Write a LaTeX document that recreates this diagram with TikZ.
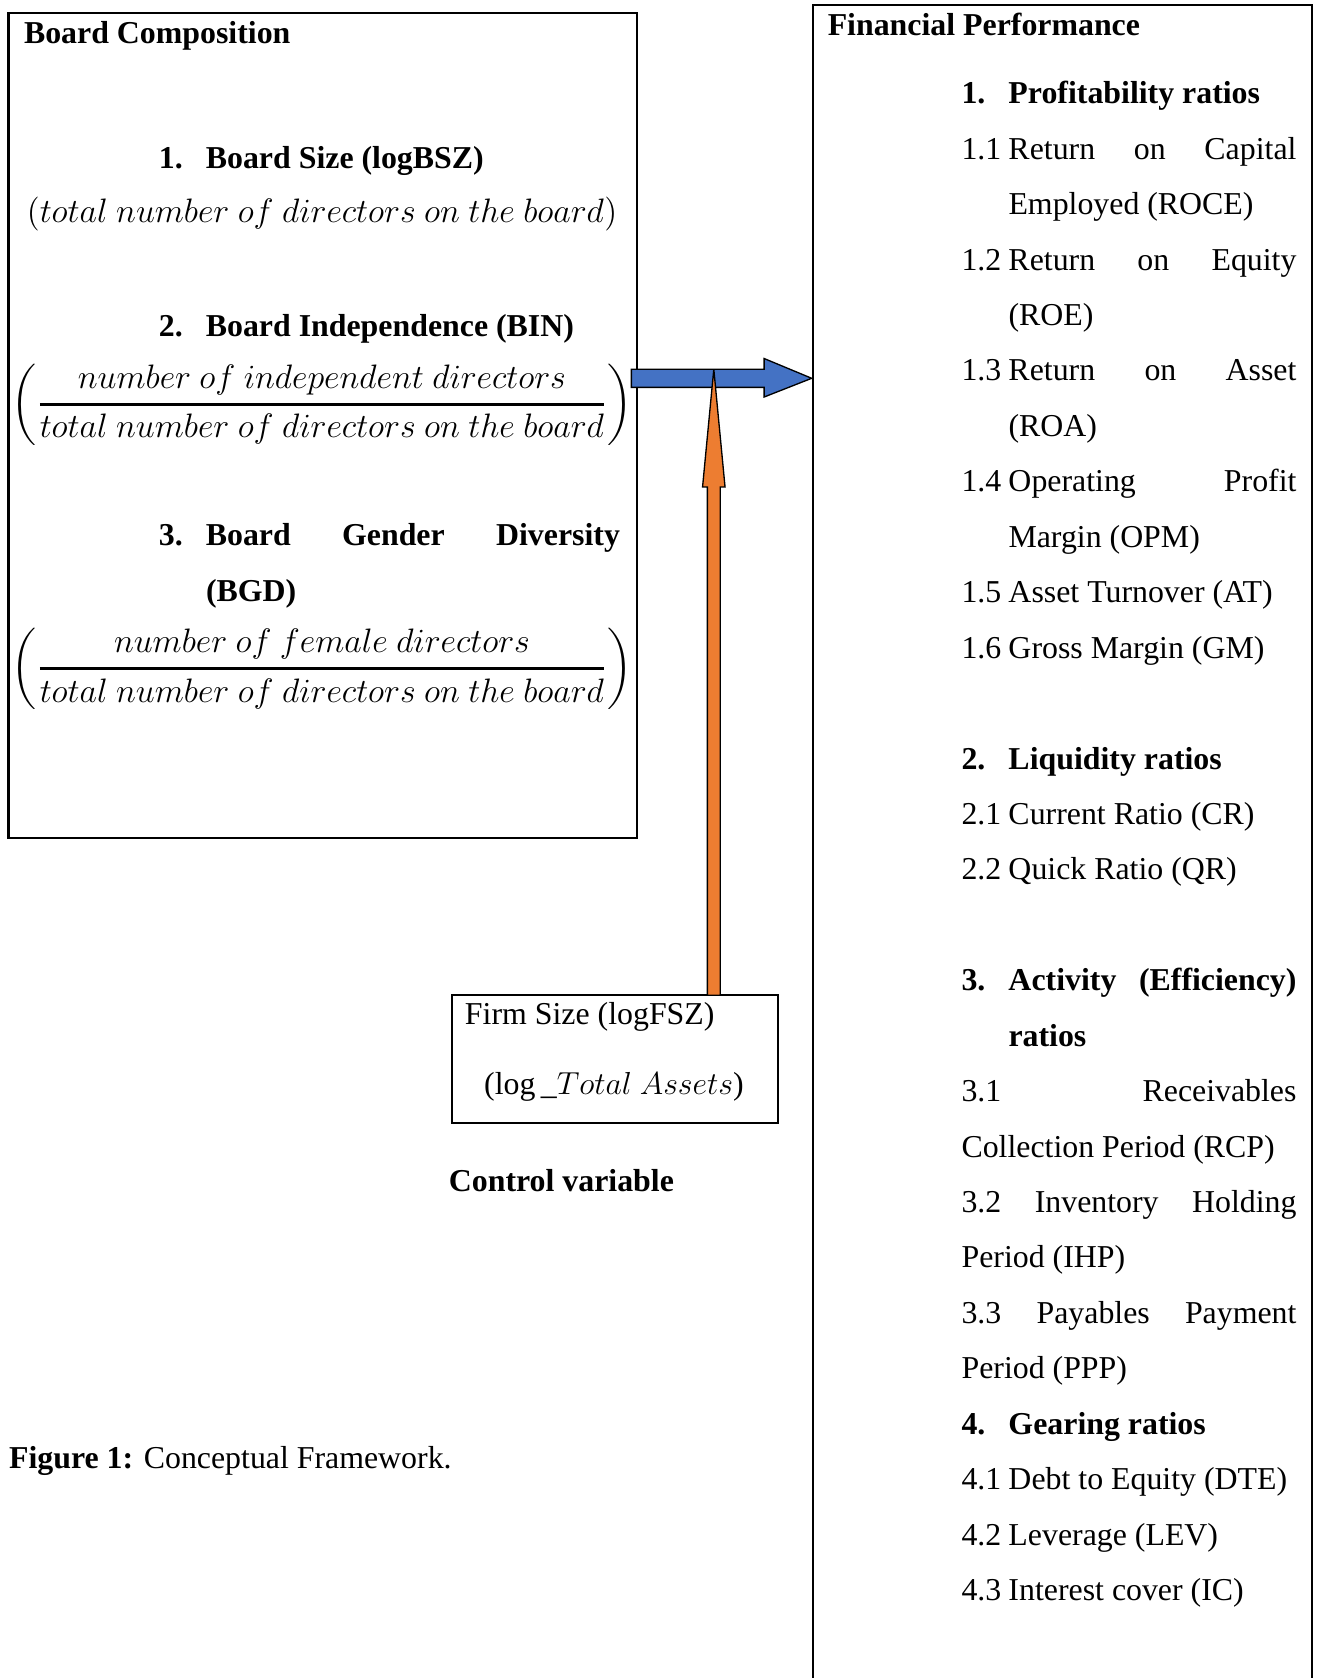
\documentclass[tikz,border=0pt,12pt]{standalone}
\usepackage{fontspec}
\setmainfont{Liberation Serif}
\usepackage{amsmath,graphicx}
\usetikzlibrary{calc,positioning,fit}

\definecolor{arrowblue}{HTML}{4472C4}
\definecolor{arroworange}{HTML}{ED7D31}

\newcommand{\numtab}[1]{\makebox[17.7pt][l]{#1}}
\newcommand{\tabjust}[2]{\numtab{#1}\makebox[108.5pt][s]{#2}}
\newcommand{\justline}[1]{\makebox[126.2pt][s]{#1}}
\newcommand{\ratiofrac}[2]{\left(\genfrac{}{}{1pt}{0}{#1}{#2}\right)}
\newcommand{\mathline}[1]{\scalebox{1.065}{$#1$}}

\tikzset{
  frame/.style={draw, line width=0.8pt, inner sep=0pt},
  txt/.style={anchor=base west, inner sep=0pt},
  mathtxt/.style={inner sep=0pt},
  blockarrow/.style={draw=black, line width=0.5pt, line join=miter},
}

\begin{document}
\begin{tikzpicture}[x=0.4032pt, y=-0.4032pt]
  \useasboundingbox (0,0) rectangle (1231,1568);
  \clip (0,0) rectangle (1231,1568);
  % Boxes
  \node[frame, fit={(8,12) (595,783)}] (board) {};
  \node[frame, fit={(760,5) (1226,1600)}] (fin) {};
  \node[frame, fit={(422,930) (727,1049)}] (firm) {};
  % Board composition
  \node[txt, font=\bfseries] (bc-title) at (22,41) {Board Composition};
  \node[txt, font=\bfseries] (bsz) at (148,157) {\numtab{1.}Board Size (logBSZ)};
  \node[mathtxt] (bsz-def) at (301,200) {\mathline{(total\ number\ of\ directors\ on\ the\ board)}};
  \node[txt, font=\bfseries] (bin) at (148,314) {\numtab{2.}Board Independence (BIN)};
  \node[mathtxt] (bin-def) at (301,378) {\mathline{\ratiofrac{number\ of\ independent\ directors}{total\ number\ of\ directors\ on\ the\ board}}};
  \node[txt, font=\bfseries] (bgd) at (148,510) {\numtab{3.}\makebox[156pt][s]{Board Gender Diversity}};
  \node[txt, font=\bfseries] (bgd-2) at (192,562) {(BGD)};
  \node[mathtxt] (bgd-def) at (301,625) {\mathline{\ratiofrac{number\ of\ female\ directors}{total\ number\ of\ directors\ on\ the\ board}}};
  % Control variable
  \node[txt] (fsz) at (434,957) {Firm Size (logFSZ)};
  \node[txt] (fsz-def) at (452,1023) {(log\,\_$Total\ Assets$)};
  \node[txt, font=\bfseries] (ctrl) at (419,1113) {Control variable};
  \node[txt] (caption) at (8,1372) {\textbf{Figure 1:} Conceptual Framework.};
  % Financial performance
  \node[txt, font=\bfseries] (fp-title) at (773,33) {Financial Performance};
  \foreach \n/\entry in {
      0/{\textbf{\numtab{1.}Profitability ratios}},
      1/{\tabjust{1.1}{Return on Capital}},
      2/{\numtab{}Employed (ROCE)},
      3/{\tabjust{1.2}{Return on Equity}},
      4/{\numtab{}(ROE)},
      5/{\tabjust{1.3}{Return on Asset}},
      6/{\numtab{}(ROA)},
      7/{\tabjust{1.4}{Operating Profit}},
      8/{\numtab{}Margin (OPM)},
      9/{\numtab{1.5}Asset Turnover (AT)},
      10/{\numtab{1.6}Gross Margin (GM)},
      12/{\textbf{\numtab{2.}Liquidity ratios}},
      13/{\numtab{2.1}Current Ratio (CR)},
      14/{\numtab{2.2}Quick Ratio (QR)},
      16/{\textbf{\tabjust{3.}{Activity (Efficiency)}}},
      17/{\textbf{\numtab{}ratios}},
      18/{\justline{3.1 Receivables}},
      19/{Collection Period (RCP)},
      20/{\justline{3.2 Inventory Holding}},
      21/{Period (IHP)},
      22/{\justline{3.3 Payables Payment}},
      23/{Period (PPP)},
      24/{\textbf{\numtab{4.}Gearing ratios}},
      25/{\numtab{4.1}Debt to Equity (DTE)},
      26/{\numtab{4.2}Leverage (LEV)},
      27/{\numtab{4.3}Interest cover (IC)}}
    \node[txt] (fp-\n) at (898,97+51.8*\n) {\entry};
  % Arrows
  \coordinate (blue-s) at (590,353.5);
  \coordinate (blue-e) at (758.5,353.5);
  \draw[blockarrow, fill=arrowblue] ($(blue-s)+(0,-8.5)$) -- ($(blue-e)+(-44.5,-8.5)$)
    -- ($(blue-e)+(-44.5,-18.5)$) -- (blue-e) -- ($(blue-e)+(-44.5,17.5)$)
    -- ($(blue-e)+(-44.5,8.5)$) -- ($(blue-s)+(0,8.5)$) -- cycle;
  \coordinate (orange-s) at (667,930);
  \coordinate (orange-e) at (667,345);
  \draw[blockarrow, fill=arroworange] ($(orange-s)+(-6,0)$) -- ($(orange-e)+(-6,110)$)
    -- ($(orange-e)+(-10.5,110)$) -- (orange-e) -- ($(orange-e)+(10.5,110)$)
    -- ($(orange-e)+(6,110)$) -- ($(orange-s)+(6,0)$) -- cycle;
\end{tikzpicture}
\end{document}
